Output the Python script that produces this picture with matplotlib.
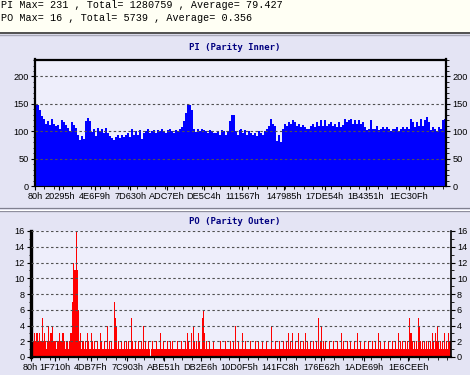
import numpy as np
import matplotlib
matplotlib.use("Agg")
import matplotlib.pyplot as plt
from matplotlib.ticker import MultipleLocator, FixedLocator
from matplotlib.lines import Line2D
from matplotlib.patches import Rectangle

# ---------------- data ----------------
HEADER_LINES = [
    "PI Max= 231 , Total= 1280759 , Average= 79.427",
    "PO Max= 16 , Total= 5739 , Average= 0.356",
]
PI_TITLE = "PI (Parity Inner)"
PO_TITLE = "PO (Parity Outer)"

X_MIN = 0x80
X_MAX = 2218000

PI_TICK_LABELS = ["80h", "20295h", "4E6F9h", "7D630h", "ADC7Eh", "DE5C4h",
                  "111567h", "147985h", "17DE54h", "1B4351h", "1EC30Fh"]
PO_TICK_LABELS = ["80h", "1F710h", "4DB7Fh", "7C903h", "ABE51h", "DB2E6h",
                  "10D0F5h", "141FC8h", "176E62h", "1ADE69h", "1E6CEEh"]

PI_YMAX = 231
PO_YMAX = 16

# PI maxima per bin (equal-width bins over X_MIN..X_MAX)
PI_VALUES = [150, 148, 138, 128, 122, 114, 118, 112, 122, 114,
             110, 112, 104, 120, 116, 112, 106, 100, 116, 112,
             106, 94, 84, 92, 86, 118, 124, 118, 98, 104,
             92, 106, 100, 104, 96, 106, 96, 92, 88, 84,
             90, 94, 88, 94, 90, 94, 96, 90, 104, 94,
             100, 94, 102, 86, 96, 100, 104, 96, 100, 102,
             96, 102, 100, 104, 100, 96, 102, 104, 100, 96,
             102, 100, 104, 108, 118, 134, 150, 148, 138, 104,
             98, 104, 100, 104, 102, 100, 96, 102, 100, 96,
             96, 100, 94, 102, 100, 94, 100, 118, 130, 130,
             100, 94, 102, 104, 96, 102, 94, 100, 96, 94,
             96, 92, 100, 96, 94, 100, 104, 110, 122, 114,
             110, 82, 94, 80, 104, 114, 110, 116, 114, 120,
             116, 110, 114, 108, 112, 108, 104, 104, 110, 114,
             108, 116, 110, 120, 110, 120, 110, 114, 116, 110,
             114, 108, 116, 108, 112, 122, 116, 120, 122, 114,
             120, 114, 120, 114, 116, 108, 102, 104, 120, 104,
             104, 110, 102, 104, 108, 104, 108, 104, 100, 104,
             104, 108, 100, 104, 108, 104, 108, 104, 122, 116,
             108, 116, 110, 122, 110, 120, 126, 116, 102, 108,
             104, 100, 108, 104, 120, 122]

# PO: 420 narrow bins; base level 1, with the bins below differing
PO_N_BINS = 420
PO_BASE = 1
PO_BINS = [1, 2, 3, 4, 5, 6, 7, 8, 9, 10,
           11, 12, 13, 14, 16, 17, 18, 19, 20, 21,
           22, 23, 24, 26, 27, 28, 29, 30, 31, 32,
           33, 35, 36, 38, 39, 40, 41, 42, 43, 44,
           45, 46, 47, 48, 49, 51, 52, 54, 56, 57,
           60, 61, 63, 66, 69, 70, 73, 76, 78, 80,
           83, 84, 85, 87, 90, 93, 95, 97, 100, 101,
           104, 107, 110, 112, 114, 117, 119, 121, 125, 129,
           132, 136, 139, 141, 146, 150, 154, 156, 157, 160,
           162, 163, 165, 167, 168, 171, 172, 173, 175, 178,
           182, 189, 194, 199, 202, 204, 207, 211, 214, 219,
           224, 227, 231, 235, 240, 244, 248, 252, 255, 257,
           259, 261, 264, 267, 269, 272, 274, 276, 279, 282,
           285, 287, 289, 290, 292, 294, 298, 302, 306, 310,
           312, 316, 319, 323, 326, 329, 333, 337, 341, 344,
           347, 349, 353, 357, 361, 364, 367, 369, 371, 374,
           376, 378, 379, 380, 381, 383, 385, 387, 388, 389,
           391, 393, 395, 397, 399, 401, 402, 404, 405, 406,
           407, 409, 411, 413, 415, 417, 418, 419]
PO_VALS = [5, 2, 3, 2, 3, 3, 2, 3, 2, 2,
           5, 2, 3, 2, 2, 4, 2, 3, 3, 4,
           2, 2, 2, 2, 2, 3, 2, 2, 3, 3,
           2, 2, 2, 2, 3, 3, 7, 12, 11, 11,
           16, 11, 6, 2, 3, 2, 2, 2, 3, 2,
           3, 2, 2, 2, 3, 2, 2, 4, 2, 2,
           7, 5, 4, 2, 2, 2, 2, 2, 5, 2,
           2, 2, 2, 4, 2, 2, 0, 2, 2, 3,
           2, 2, 2, 2, 2, 2, 2, 3, 2, 3,
           4, 2, 2, 3, 2, 5, 6, 3, 2, 2,
           2, 2, 2, 2, 2, 4, 2, 3, 2, 2,
           2, 2, 2, 2, 4, 2, 2, 2, 2, 3,
           2, 3, 2, 3, 2, 2, 3, 2, 2, 2,
           2, 5, 2, 4, 2, 2, 2, 2, 2, 3,
           2, 2, 2, 2, 3, 2, 2, 2, 2, 2,
           3, 2, 2, 2, 2, 2, 3, 2, 2, 2,
           2, 5, 3, 3, 2, 2, 2, 5, 4, 2,
           2, 2, 2, 2, 2, 3, 2, 3, 2, 4,
           2, 2, 2, 3, 2, 3, 2, 2]

# ---------------- style ----------------
W, H = 470, 375
DPI = 100
FIG_BG = "#E4E4F4"
AX_BG = "#EEEEFB"
HEAD_BG = "#FFFFF4"
PI_COLOR = "#0000FF"
PO_COLOR = "#FF0000"
TITLE_COLOR = "#000080"
TICK_FONT = ["Liberation Sans", "DejaVu Sans"]

fig = plt.figure(figsize=(W / DPI, H / DPI), dpi=DPI, facecolor=FIG_BG)


def fx(px):
    return px / W


def fy(py):
    return 1 - py / H


# header area
fig.patches.append(Rectangle((0, fy(32)), 1, 1 - fy(32), transform=fig.transFigure,
                             facecolor=HEAD_BG, edgecolor="none", zorder=0))
for yy, col, lw in [(32.5, "#505050", 1.4), (34.5, "#A8A8B8", 1.0)]:
    fig.add_artist(Line2D([0, 1], [fy(yy), fy(yy)], transform=fig.transFigure,
                          color=col, lw=lw))
for yy, col in [(208.3, "#808090"), (210.7, "#808090"), (209.5, "#FFFFFF")]:
    fig.add_artist(Line2D([0, 1], [fy(yy), fy(yy)], transform=fig.transFigure,
                          color=col, lw=0.9))

for i, line in enumerate(HEADER_LINES):
    fig.text(fx(1), fy(5.5 + 12.5 * i), line, family=["Liberation Mono", "DejaVu Sans Mono"],
             fontsize=7.3, va="center", ha="left", color="#000000")

fig.text(0.5, fy(48), PI_TITLE, family=["DejaVu Sans Mono"], weight="bold",
         fontsize=6.5, color=TITLE_COLOR, ha="center", va="center")
fig.text(0.5, fy(221), PO_TITLE, family=["DejaVu Sans Mono"], weight="bold",
         fontsize=6.5, color=TITLE_COLOR, ha="center", va="center")


def style_axis(ax, ymax, ymajor, yminor, tick_labels):
    ax.set_facecolor(AX_BG)
    ax.set_xlim(X_MIN, X_MAX)
    ax.set_ylim(0, ymax)
    pos = [int(s[:-1], 16) for s in tick_labels]
    ax.xaxis.set_major_locator(FixedLocator(pos))
    ax.set_xticklabels(tick_labels)
    ax.xaxis.set_minor_locator(MultipleLocator(50000))
    ax.yaxis.set_major_locator(MultipleLocator(ymajor))
    ax.yaxis.set_minor_locator(MultipleLocator(yminor))
    ax.tick_params(axis="both", which="major", length=3, width=0.8, color="#000000",
                   labelsize=6.6, pad=1.5)
    ax.tick_params(axis="both", which="minor", length=1.8, width=0.6, color="#000000")
    ax.tick_params(axis="y", which="both", left=True, right=True,
                   labelleft=True, labelright=True)
    for lab in ax.get_xticklabels() + ax.get_yticklabels():
        lab.set_family(TICK_FONT)
    ax.grid(axis="y", which="major", linestyle=(0, (2.2, 2.2)), color="#505050",
            linewidth=0.8, zorder=1)
    ax.set_axisbelow(False)


# ---------------- PI ----------------
ax1 = fig.add_axes([fx(35), fy(186), fx(411), (186 - 59.5) / H])
edges1 = np.linspace(X_MIN, X_MAX, len(PI_VALUES) + 1)
ax1.bar(edges1[:-1], PI_VALUES, width=np.diff(edges1), align="edge",
        color=PI_COLOR, linewidth=0, zorder=0.5, antialiased=False)
style_axis(ax1, PI_YMAX, 50, 10, PI_TICK_LABELS)
for side in ["top", "left", "right"]:
    ax1.spines[side].set_linewidth(1.6)
ax1.spines["bottom"].set_linewidth(0.8)

# ---------------- PO ----------------
ax2 = fig.add_axes([fx(30.6), fy(357), fx(420), (357 - 231) / H])
po_values = np.full(PO_N_BINS, PO_BASE, dtype=float)
po_values[PO_BINS] = PO_VALS
edges2 = np.linspace(X_MIN, X_MAX, PO_N_BINS + 1)
ax2.bar(edges2[:-1], po_values, width=np.diff(edges2), align="edge",
        color=PO_COLOR, linewidth=0, zorder=0.5, antialiased=False)
style_axis(ax2, PO_YMAX, 2, 1, PO_TICK_LABELS)
ax2.spines["top"].set_visible(False)
ax2.spines["left"].set_linewidth(2.4)
ax2.spines["bottom"].set_linewidth(1.6)
ax2.spines["right"].set_linewidth(1.2)

fig.savefig("out.png", dpi=DPI, facecolor=FIG_BG)
